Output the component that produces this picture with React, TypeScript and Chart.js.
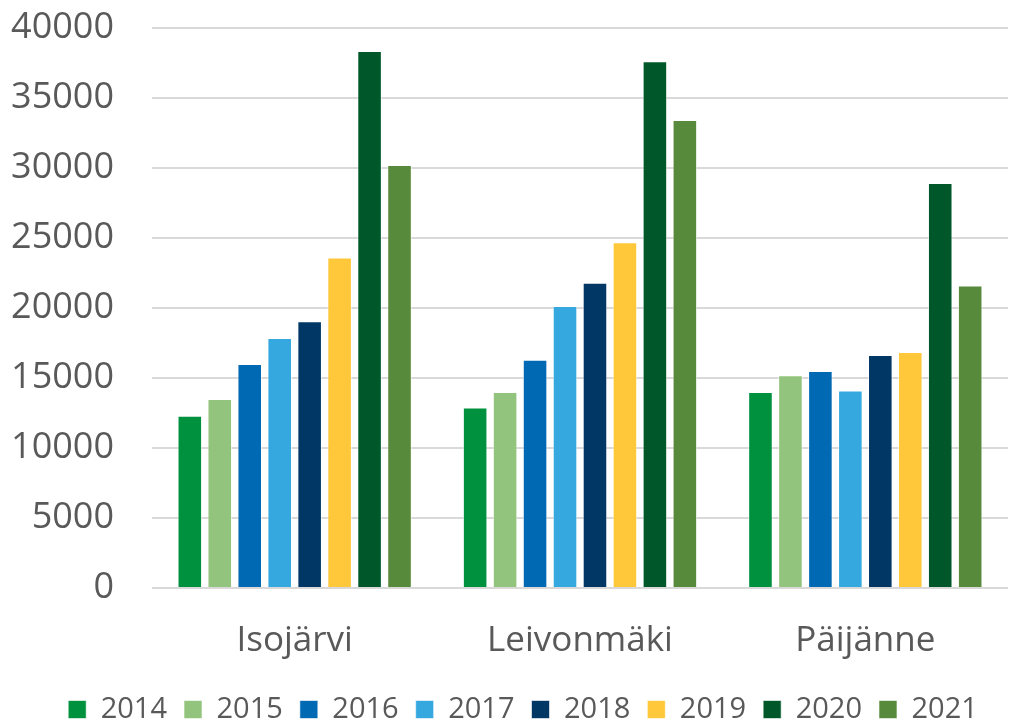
import React, { useEffect, useRef } from "react";
import { Chart, registerables } from "chart.js";

Chart.register(...registerables);

const categories = ["Isojärvi", "Leivonmäki", "Päijänne"];
const years = ["2014", "2015", "2016", "2017", "2018", "2019", "2020", "2021"];
const v2014 = [12300, 12900, 14000];
const v2015 = [13500, 14000, 15200];
const v2016 = [16000, 16300, 15500];
const v2017 = [17850, 20150, 14100];
const v2018 = [19050, 21800, 16650];
const v2019 = [23600, 24700, 16850];
const v2020 = [38350, 37630, 28930];
const v2021 = [30220, 33430, 21600];
const colors = ["#00913F", "#93C47D", "#0069B4", "#35A8E0", "#003764", "#FFC83A", "#00582A", "#578A3A"];
const yTicks = [0, 5000, 10000, 15000, 20000, 25000, 30000, 35000, 40000];

const legendShift = {
  id: "legendShift",
  afterLayout(chart: any) {
    const l = chart.legend;
    if (l) {
      l.left += 14;
      l.right += 14;
    }
  },
};

export default function App() {
  const ref = useRef<HTMLCanvasElement | null>(null);
  useEffect(() => {
    document.body.style.margin = "0";
    const series = [v2014, v2015, v2016, v2017, v2018, v2019, v2020, v2021];
    const chart = new Chart(ref.current!, {
      type: "bar",
      data: {
        labels: categories,
        datasets: series.map((d, i) => ({
          label: years[i],
          data: d,
          backgroundColor: colors[i],
          borderColor: "rgba(255,255,255,0.6)",
          borderWidth: 1,
          barPercentage: 0.82,
          categoryPercentage: 0.84,
        })),
      },
      plugins: [legendShift],
      options: {
        animation: false,
        responsive: false,
        maintainAspectRatio: false,
        layout: { padding: { top: 28, right: 1, left: 10, bottom: -11 } },
        plugins: {
          tooltip: { enabled: false },
          legend: {
            position: "bottom",
            labels: {
              boxWidth: 18,
              boxHeight: 18,
              padding: 17,
              color: "#595959",
              font: { family: "'Open Sans', 'Noto Sans', sans-serif", size: 29 },
            },
          },
        },
        scales: {
          x: {
            grid: { display: false },
            border: { display: false },
            afterFit: (axis: any) => {
              axis.height = axis.height - 8;
            },
            ticks: {
              color: "#595959",
              padding: 24,
              font: { family: "'Open Sans', 'Noto Sans', sans-serif", size: 35 },
            },
          },
          y: {
            min: 0,
            max: 40000,
            afterBuildTicks: (axis: any) => {
              axis.ticks = yTicks.map((v) => ({ value: v }));
            },
            afterFit: (axis: any) => {
              axis.width = 142;
              axis.paddingTop = 0;
              axis.paddingBottom = 0;
            },
            grid: { color: "#d9d9d9", lineWidth: 2, drawTicks: false },
            border: { display: false },
            ticks: {
              color: "#595959",
              padding: 38,
              font: { family: "'Open Sans', 'Noto Sans', sans-serif", size: 36 },
              callback: (v: any) => String(v),
            },
          },
        },
      },
    });
    return () => chart.destroy();
  }, []);
  return (
    <div style={{ position: "absolute", left: 0, top: 0, width: 1009, height: 723, background: "#fff" }}>
      <canvas ref={ref} width={1009} height={723} style={{ width: 1009, height: 723 }} />
    </div>
  );
}
